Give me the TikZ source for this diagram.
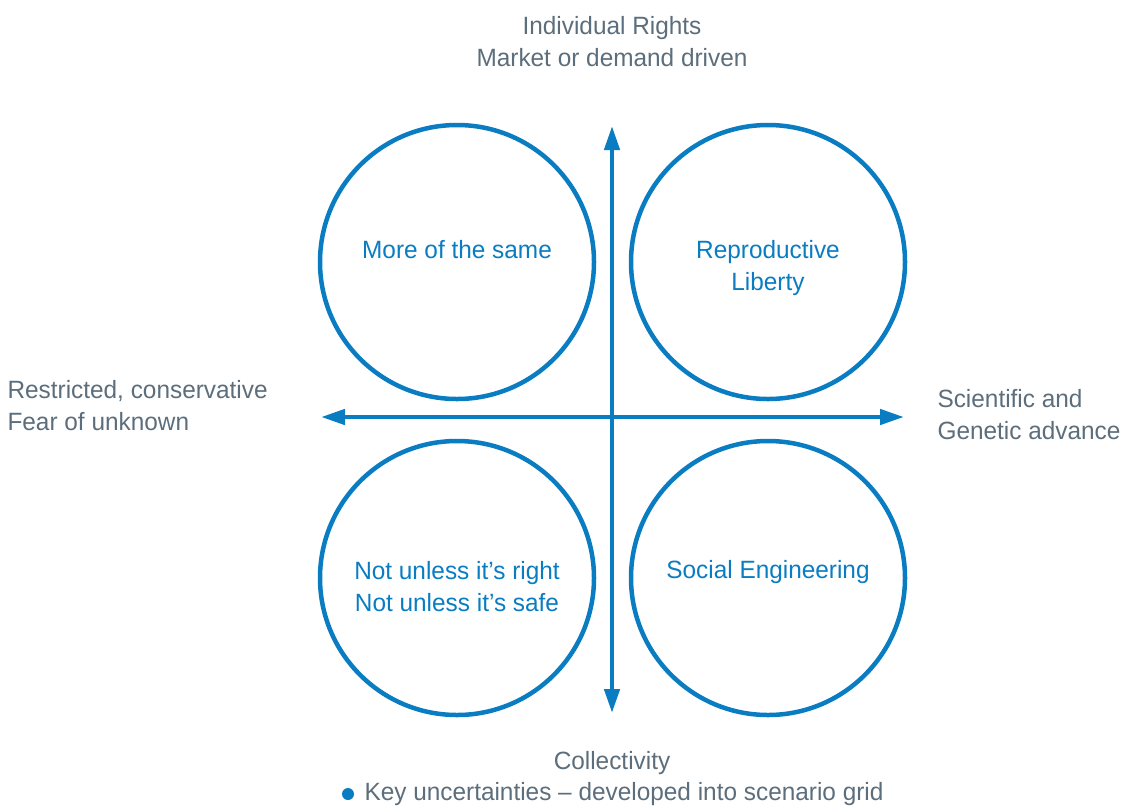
\documentclass[tikz,border=0pt]{standalone}
\usepackage{fontspec}
\setmainfont[FakeStretch=0.975]{Liberation Sans}
\usetikzlibrary{arrows.meta}

\definecolor{gridblue}{HTML}{0A7DC2}
\definecolor{labelgrey}{HTML}{5C6E7C}

\begin{document}
\begin{tikzpicture}[x=1pt,y=-1pt,
  scenario/.style={draw=gridblue,line width=4.5pt,circle,minimum size=274pt,inner sep=0pt},
  inner/.style={text=gridblue,align=center,font=\fontsize{25}{32}\selectfont},
  axislabel/.style={text=labelgrey,align=center,font=\fontsize{25}{32}\selectfont},
  axis/.style={draw=gridblue,line width=4.5pt,-{Triangle[length=24pt,width=15pt]}}]
\useasboundingbox (0,0) rectangle (1127,807);
% the four scenarios
\node[scenario] (c1) at (457,262) {};
\node[scenario] (c2) at (768,262) {};
\node[scenario] (c3) at (457,578) {};
\node[scenario] (c4) at (768,578) {};
\node[inner] (t1) at (457,250) {More of the same};
\node[inner] (t2) at (768,268) {Reproductive\\Liberty};
\node[inner] (t3) at (457,587) {Not unless it’s right\\Not unless it’s safe};
\node[inner] (t4) at (768,572) {Social Engineering};
% axes
\coordinate (mid) at (612,417);
\coordinate (n) at (612,126);
\coordinate (s) at (612,713);
\coordinate (w) at (321,417);
\coordinate (e) at (904,417);
\draw[axis] (mid) -- (n);
\draw[axis] (mid) -- (s);
\draw[axis] (mid) -- (w);
\draw[axis] (mid) -- (e);
% axis ends
\node[axislabel] (up) at (612,42) {Individual Rights\\Market or demand driven};
\node[axislabel,align=left,anchor=west] (left) at (4,406) {Restricted, conservative\\Fear of unknown};
\node[axislabel,align=left,anchor=west] (right) at (934,415) {Scientific and\\Genetic advance};
\node[axislabel] (down) at (612,763) {Collectivity};
\node[axislabel,anchor=west] (key) at (361,794) {Key uncertainties – developed into scenario grid};
\fill[gridblue] (348,794) circle (6pt);
\end{tikzpicture}
\end{document}
